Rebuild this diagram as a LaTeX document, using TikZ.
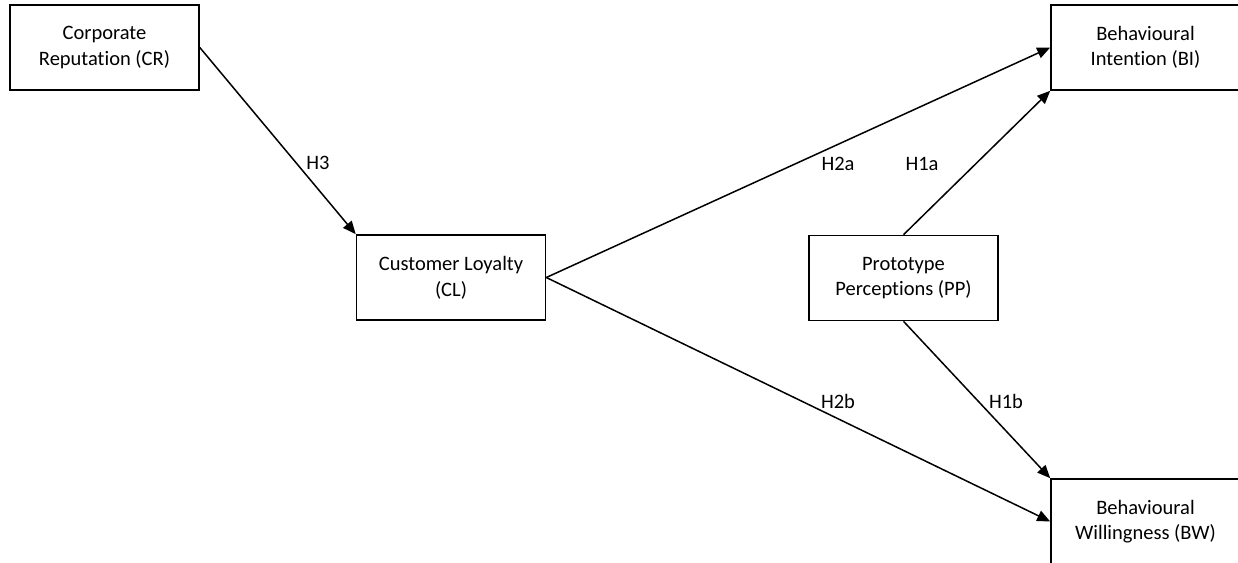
\documentclass[tikz,border=0pt]{standalone}
\usepackage{fontspec}
\setmainfont{Carlito}[RawFeature={-liga;-clig;-calt;-dlig}]
\usetikzlibrary{arrows.meta}
\begin{document}
\begin{tikzpicture}[x=1pt,y=-1pt,
  construct/.style={draw, line width=1.6pt, rectangle, minimum width=189pt, minimum height=85pt,
    align=center, inner sep=0pt, font=\fontsize{20.5}{25.6}\selectfont},
  path/.style={draw, line width=1.5pt, -{Triangle[length=13pt,width=11pt]}},
  hyp/.style={inner sep=0pt, font=\fontsize{20.5}{25.6}\selectfont}]
\useasboundingbox (0,0) rectangle (1238,562);
\clip (0,0) rectangle (1238,562);

% constructs
\node[construct] (CR) at (104.5,47.5) {Corporate\\Reputation (CR)};
\node[construct] (CL) at (451,277.5) {Customer Loyalty\\(CL)};
\node[construct] (PP) at (903.5,278) {Prototype\\Perceptions (PP)};
\node[construct] (BI) at (1145.5,47.5) {Behavioural\\Intention (BI)};
\node[construct] (BW) at (1145.5,521.5) {Behavioural\\Willingness (BW)};

% hypothesised paths
\draw[path] (CR.east) -- (CL.north west);
\draw[path] (CL.east) -- (BI.west);
\draw[path] (CL.east) -- (BW.west);
\draw[path] (PP.north) -- (BI.south west);
\draw[path] (PP.south) -- (BW.north west);

% path labels
\node[hyp] (h3) at (318,163) {H3};
\node[hyp] (h2a) at (838,164) {H2a};
\node[hyp] (h1a) at (922,164) {H1a};
\node[hyp] (h2b) at (838,401) {H2b};
\node[hyp] (h1b) at (1006,401) {H1b};
\end{tikzpicture}
\end{document}
